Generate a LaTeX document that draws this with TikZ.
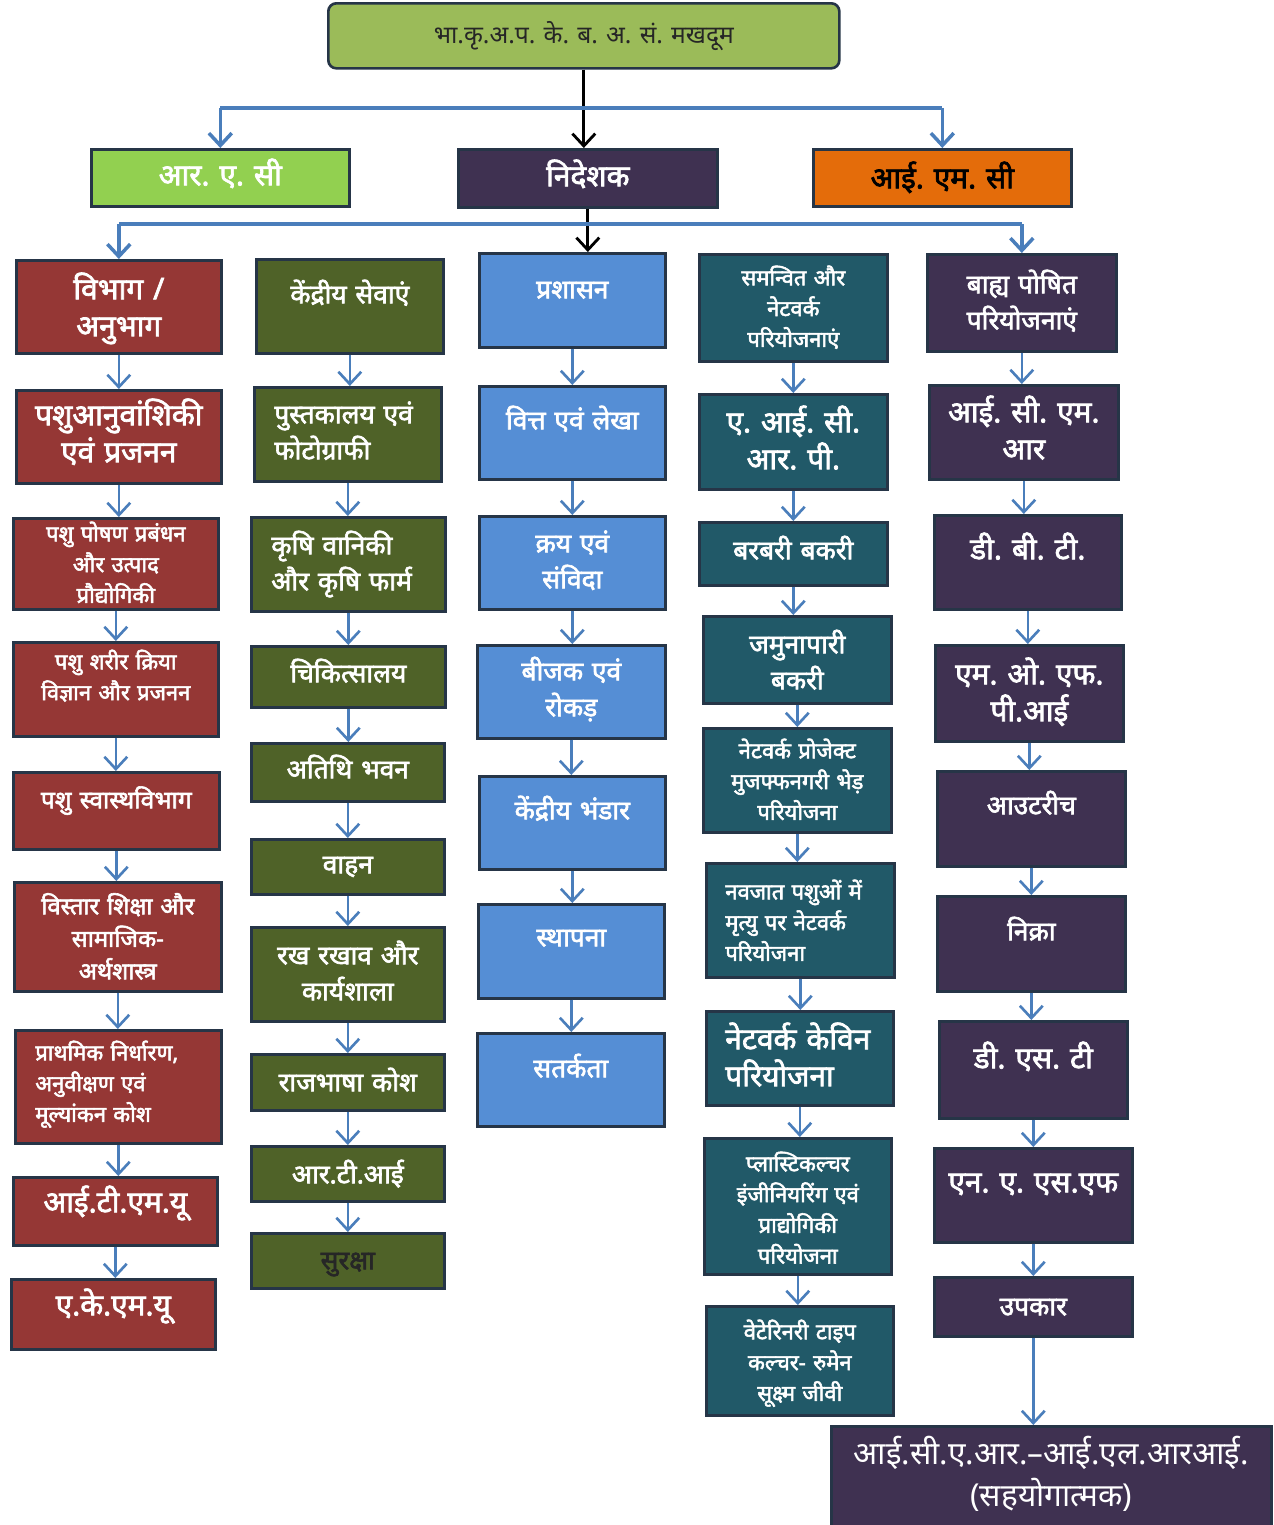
\documentclass[tikz,border=0pt]{standalone}
\usepackage{fontspec}
\setmainfont{Noto Sans}[Script=Devanagari, WordSpace=0.8, BoldFont={Noto Sans}, BoldFeatures={FakeBold=2.4}]
\usetikzlibrary{arrows.meta}

\newdimen\pxu
\pxu=0.02cm

\definecolor{deptred}{HTML}{953735}
\definecolor{servolive}{HTML}{4F6228}
\definecolor{adminblue}{HTML}{558ED5}
\definecolor{projteal}{HTML}{215968}
\definecolor{extpurple}{HTML}{3F3151}
\definecolor{racgreen}{HTML}{92D050}
\definecolor{imcorange}{HTML}{E46C0A}
\definecolor{topgreen}{HTML}{9BBB59}
\definecolor{boxline}{HTML}{263547}
\definecolor{flowblue}{HTML}{4A7EBB}

\tikzset{
  box/.style={draw=boxline, line width=1.5pt, inner sep=0pt, anchor=north west, align=center, text=white},
  dims/.style n args={3}{text width=#1\pxu, text height=#2\pxu, text depth=#3\pxu},
  bigtxt/.style={font=\fontsize{17}{21}\selectfont\bfseries},
  midtxt/.style={font=\fontsize{15}{20.5}\selectfont\bfseries},
  smalltxt/.style={font=\fontsize{12.5}{17.5}\selectfont\bfseries},
  dept/.style={box, fill=deptred},
  serv/.style={box, fill=servolive},
  admin/.style={box, fill=adminblue},
  proj/.style={box, fill=projteal},
  ext/.style={box, fill=extpurple},
  flow/.style={draw=flowblue, line width=1.5pt, -{Straight Barb[length=7pt,width=13pt]}},
  bus/.style={draw=flowblue, line width=2.6pt},
  drop/.style={draw=flowblue, line width=2pt, -{Straight Barb[length=7pt,width=13pt]}},
  main/.style={draw=black, line width=1.6pt, -{Straight Barb[length=7pt,width=13pt]}}
}

\begin{document}
\frenchspacing
\begin{tikzpicture}[x=0.02cm, y=-0.02cm]
\useasboundingbox (0,0) rectangle (1274,1525);

% ======================================
% TOP: INSTITUTE, RAC, DIRECTOR, IMC
% ======================================
\node[box, fill=topgreen, rounded corners=0.16cm, text=black!85, font=\fontsize{14}{18}\selectfont, dims={511}{40}{25}] (icar) at (327,2) {भा.कृ.अ.प. के. ब. अ. सं. मखदूम};

\node[box, fill=racgreen, bigtxt, dims={258}{36}{21}] (rac) at (90,148) {आर. ए. सी};
\node[ext, bigtxt, dims={259}{37}{21}] (dir) at (457,148) {निदेशक};
\node[box, fill=imcorange, text=black, bigtxt, dims={258}{39}{18}] (imc) at (812,148) {आई. एम. सी};

\coordinate (busA) at (585,108);
\draw [main] (icar.south) -- (icar.south |- dir.north);
\draw [bus] (busA -| rac.north) -- (busA -| imc.north);
\draw [drop] (busA -| rac.north) -- (rac.north);
\draw [drop] (busA -| imc.north) -- (imc.north);

% ======================================
% BLOCK 1 (RED): DIVISIONS / SECTIONS
% ======================================
\node[dept, bigtxt, dims={205}{39}{54}] (vib) at (15,259) {विभाग /\\ अनुभाग};
\node[dept, bigtxt, dims={205}{35}{58}] (pap) at (15,389) {पशुआनुवांशिकी\\ एवं प्रजनन};
\node[dept, smalltxt, dims={205}{23}{68}] (ppp) at (12,517) {पशु पोषण प्रबंधन\\ और उत्पाद\\ प्रौद्योगिकी};
\node[dept, smalltxt, dims={205}{27}{67}] (psk) at (12,641) {पशु शरीर क्रिया\\ विज्ञान और प्रजनन};
\node[dept, font=\fontsize{14}{19}\selectfont\bfseries, dims={206}{36}{41}] (psv) at (12,771) {पशु स्वास्थविभाग};
\node[dept, font=\fontsize{13.5}{18.5}\selectfont\bfseries, dims={207}{32}{77}] (vsa) at (13,881) {विस्तार शिक्षा और\\ सामाजिक-\\ अर्थशास्त्र};
\node[dept, smalltxt, align=left, inner xsep=20\pxu, dims={166}{30}{83}] (pna) at (14,1029) {प्राथमिक निर्धारण,\\ अनुवीक्षण एवं\\ मूल्यांकन कोश};
\node[dept, bigtxt, dims={204}{35}{33}] (itmu) at (12,1176) {आई.टी.एम.यू};
\node[dept, bigtxt, dims={204}{36}{34}] (akmu) at (10,1278) {ए.के.एम.यू};

\draw [flow] (vib.south) -- (vib.south |- pap.north);
\draw [flow] (pap.south) -- (pap.south |- ppp.north);
\draw [flow] (ppp.south) -- (ppp.south |- psk.north);
\draw [flow] (psk.south) -- (psk.south |- psv.north);
\draw [flow] (psv.south) -- (psv.south |- vsa.north);
\draw [flow] (vsa.south) -- (vsa.south |- pna.north);
\draw [flow] (pna.south) -- (pna.south |- itmu.north);
\draw [flow] (itmu.south) -- (itmu.south |- akmu.north);

% ======================================
% BLOCK 2 (OLIVE): CENTRAL SERVICES
% ======================================
\node[serv, midtxt, dims={187}{44}{50}] (kse) at (255,258) {केंद्रीय सेवाएं};
\node[serv, midtxt, align=left, inner xsep=20\pxu, dims={147}{36}{58}] (pef) at (253,386) {पुस्तकालय एवं\\ फोटोग्राफी};
\node[serv, midtxt, align=left, inner xsep=20\pxu, dims={154}{37}{57}] (kvk) at (250,516) {कृषि वानिकी\\ और कृषि फार्म};
\node[serv, midtxt, dims={194}{36}{25}] (chk) at (250,645) {चिकित्सालय};
\node[serv, midtxt, dims={193}{35}{23}] (abh) at (250,742) {अतिथि भवन};
\node[serv, midtxt, dims={193}{34}{21}] (vah) at (250,838) {वाहन};
\node[serv, midtxt, dims={193}{37}{57}] (rrk) at (250,926) {रख रखाव और\\ कार्यशाला};
\node[serv, midtxt, dims={193}{37}{19}] (rbk) at (250,1053) {राजभाषा कोश};
\node[serv, midtxt, dims={193}{37}{18}] (rti) at (250,1145) {आर.टी.आई};
\node[serv, midtxt, text=black!85, dims={193}{36}{19}] (sur) at (250,1232) {सुरक्षा};

\draw [flow] (kse.south) -- (kse.south |- pef.north);
\draw [flow] (pef.south) -- (pef.south |- kvk.north);
\draw [flow] (kvk.south) -- (kvk.south |- chk.north);
\draw [flow] (chk.south) -- (chk.south |- abh.north);
\draw [flow] (abh.south) -- (abh.south |- vah.north);
\draw [flow] (vah.south) -- (vah.south |- rrk.north);
\draw [flow] (rrk.south) -- (rrk.south |- rbk.north);
\draw [flow] (rbk.south) -- (rbk.south |- rti.north);
\draw [flow] (rti.south) -- (rti.south |- sur.north);

% ======================================
% BLOCK 3 (BLUE): ADMINISTRATION
% ======================================
\node[admin, midtxt, dims={186}{45}{49}] (pra) at (478,252) {प्रशासन};
\node[admin, midtxt, dims={186}{43}{50}] (vel) at (478,385) {वित्त एवं लेखा};
\node[admin, midtxt, dims={186}{36}{57}] (kes) at (478,515) {क्रय एवं\\ संविदा};
\node[admin, midtxt, dims={188}{35}{58}] (ber) at (476,644) {बीजक एवं\\ रोकड़};
\node[admin, midtxt, dims={186}{43}{50}] (kbh) at (478,775) {केंद्रीय भंडार};
\node[admin, midtxt, dims={186}{42}{52}] (sth) at (477,903) {स्थापना};
\node[admin, midtxt, dims={187}{44}{49}] (sat) at (476,1032) {सतर्कता};

\draw [flow] (pra.south) -- (pra.south |- vel.north);
\draw [flow] (vel.south) -- (vel.south |- kes.north);
\draw [flow] (kes.south) -- (kes.south |- ber.north);
\draw [flow] (ber.south) -- (ber.south |- kbh.north);
\draw [flow] (kbh.south) -- (kbh.south |- sth.north);
\draw [flow] (sth.south) -- (sth.south |- sat.north);

% ======================================
% BLOCK 4 (TEAL): NETWORK PROJECTS
% ======================================
\node[proj, smalltxt, dims={188}{31}{76}] (snp) at (698,253) {समन्वित और\\ नेटवर्क\\ परियोजनाएं};
\node[proj, bigtxt, dims={188}{38}{57}] (aicrp) at (698,393) {ए. आई. सी.\\ आर. पी.};
\node[proj, midtxt, dims={188}{37}{26}] (bab) at (698,521) {बरबरी बकरी};
\node[proj, midtxt, dims={188}{37}{50}] (jab) at (702,615) {जमुनापारी\\ बकरी};
\node[proj, smalltxt, dims={188}{30}{74}] (npm) at (702,727) {नेटवर्क प्रोजेक्ट\\ मुजफ्फनगरी भेड़\\ परियोजना};
\node[proj, smalltxt, align=left, inner xsep=19\pxu, dims={150}{36}{78}] (nmn) at (705,862) {नवजात पशुओं में\\ मृत्यु पर नेटवर्क\\ परियोजना};
\node[proj, bigtxt, align=left, inner xsep=19\pxu, dims={149}{38}{56}] (nkp) at (705,1010) {नेटवर्क केविन\\ परियोजना};
\node[proj, smalltxt, dims={187}{33}{103}] (pep) at (703,1137) {प्लास्टिकल्चर\\ इंजीनियरिंग एवं\\ प्राद्योगिकी\\ परियोजना};
\node[proj, smalltxt, dims={187}{33}{76}] (vtc) at (705,1305) {वेटेरिनरी टाइप\\ कल्चर- रुमेन\\ सूक्ष्म जीवी};

\draw [flow] (snp.south) -- (snp.south |- aicrp.north);
\draw [flow] (aicrp.south) -- (aicrp.south |- bab.north);
\draw [flow] (bab.south) -- (bab.south |- jab.north);
\draw [flow] (jab.south) -- (jab.south |- npm.north);
\draw [flow] (npm.south) -- (npm.south |- nmn.north);
\draw [flow] (nmn.south) -- (nmn.south |- nkp.north);
\draw [flow] (nkp.south) -- (nkp.south |- pep.north);
\draw [flow] (pep.south) -- (pep.south |- vtc.north);

% ======================================
% BLOCK 5 (PURPLE): EXTERNALLY FUNDED PROJECTS
% ======================================
\node[ext, midtxt, dims={189}{39}{58}] (bpp) at (926,253) {बाह्य पोषित\\ परियोजनाएं};
\node[ext, bigtxt, dims={189}{37}{57}] (icmr) at (928,384) {आई. सी. एम.\\ आर};
\node[ext, bigtxt, dims={187}{44}{50}] (dbt) at (933,514) {डी. बी. टी.};
\node[ext, bigtxt, dims={188}{39}{57}] (mofpi) at (934,644) {एम. ओ. एफ.\\ पी.आई};
\node[ext, midtxt, dims={188}{43}{52}] (out) at (936,770) {आउटरीच};
\node[ext, midtxt, dims={188}{44}{51}] (nicra) at (936,895) {निक्रा};
\node[ext, bigtxt, dims={188}{47}{50}] (dst) at (938,1020) {डी. एस. टी};
\node[ext, bigtxt, dims={198}{44}{50}] (nasf) at (933,1147) {एन. ए. एस.एफ};
\node[ext, midtxt, dims={198}{38}{21}] (upk) at (933,1276) {उपकार};
\node[ext, font=\fontsize{18}{24}\selectfont, dims={440}{38}{72}] (ilri) at (830,1425) {आई.सी.ए.आर.–आई.एल.आरआई.\\ (सहयोगात्मक)};

\draw [flow] (bpp.south) -- (bpp.south |- icmr.north);
\draw [flow] (icmr.south) -- (icmr.south |- dbt.north);
\draw [flow] (dbt.south) -- (dbt.south |- mofpi.north);
\draw [flow] (mofpi.south) -- (mofpi.south |- out.north);
\draw [flow] (out.south) -- (out.south |- nicra.north);
\draw [flow] (nicra.south) -- (nicra.south |- dst.north);
\draw [flow] (dst.south) -- (dst.south |- nasf.north);
\draw [flow] (nasf.south) -- (nasf.south |- upk.north);
\draw [flow] (upk.south) -- (upk.south |- ilri.north);

% ======================================
% DIRECTOR TO THE FIVE BLOCKS
% ======================================
\coordinate (busB) at (590,224);
\draw [main] (dir.south) -- (dir.south |- pra.north);
\draw [bus] (busB -| vib.north) -- (busB -| bpp.north);
\draw [drop] (busB -| vib.north) -- (vib.north);
\draw [drop] (busB -| bpp.north) -- (bpp.north);

\end{tikzpicture}
\end{document}
